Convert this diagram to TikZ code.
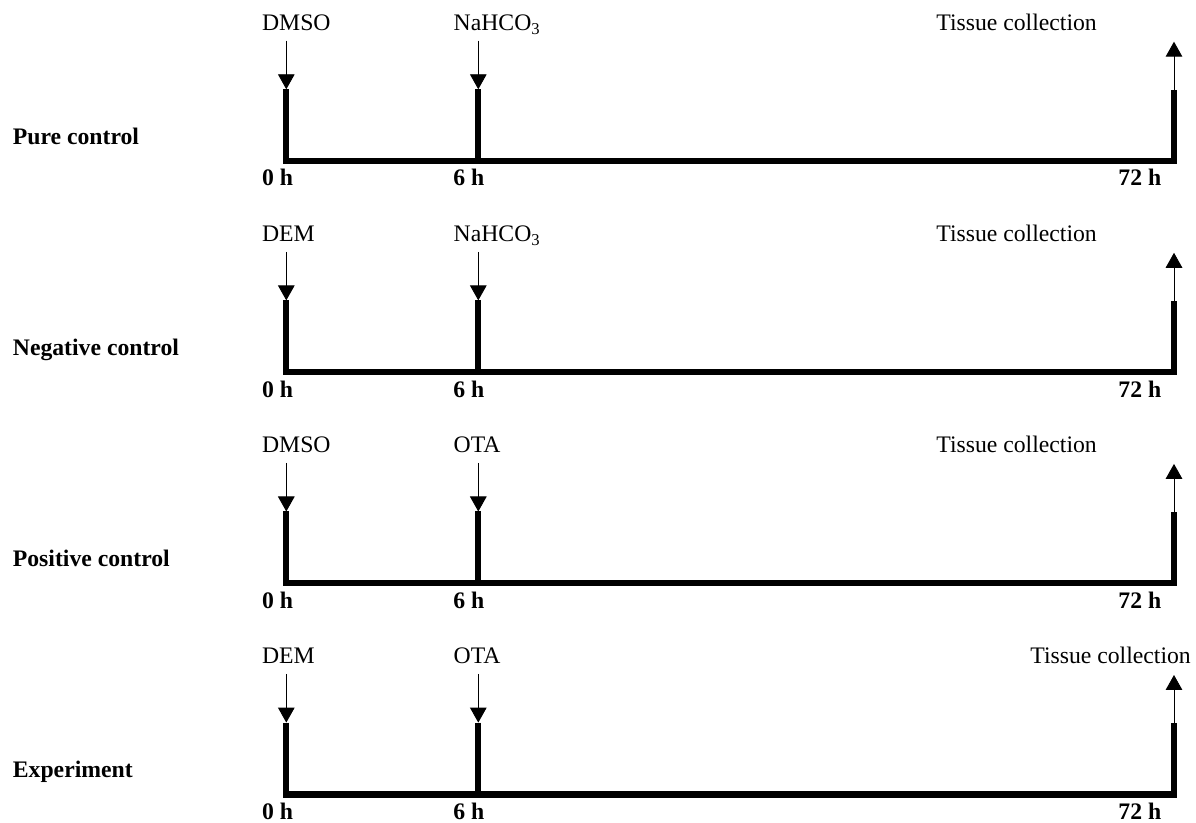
\documentclass[tikz,border=0pt]{standalone}
\usepackage{fontspec}
\setmainfont{Liberation Serif}
\usetikzlibrary{arrows.meta}
\begin{document}
\begin{tikzpicture}[x=0.5pt,y=-0.5pt,
 lbl/.style={anchor=base west,inner sep=0pt,font=\fontsize{11.85}{14}\selectfont},
 blbl/.style={anchor=base west,inner sep=0pt,font=\fontsize{11.85}{14}\selectfont\bfseries},
 bar/.style={line width=3pt,line cap=butt},
 axis/.style={line width=3.25pt,line cap=butt},
 dose/.style={line width=0.45pt,-{Triangle[width=8.3pt,length=7.5pt]}}]
\useasboundingbox (0,0) rectangle (1196,823);
\foreach \r/\a/\b/\name/\tx in {0/DMSO/NaHCO\textsubscript{3}/Pure control/936,
  1/DEM/NaHCO\textsubscript{3}/Negative control/936,
  2/DMSO/OTA/Positive control/936,
  3/DEM/OTA/Experiment/1030}{
  \pgfmathsetmacro{\o}{\r*211.1}
  \coordinate (a\r) at (286.3,{\o+40.7});
  \coordinate (zt\r) at (286.3,{\o+89.3});
  \coordinate (zb\r) at (286.3,{\o+164.3});
  \coordinate (b\r) at (478.3,{\o+40.7});
  \coordinate (st\r) at (478.3,{\o+89.3});
  \coordinate (sb\r) at (478.3,{\o+164.3});
  \coordinate (c\r) at (1174,{\o+41.7});
  \coordinate (et\r) at (1174,{\o+90});
  \coordinate (eb\r) at (1174,{\o+164.3});
  \coordinate (hl\r) at (283.3,{\o+161});
  \coordinate (hr\r) at (1177,{\o+161});
  \draw[dose] (a\r) -- (zt\r);
  \draw[dose] (b\r) -- (st\r);
  \draw[dose] (et\r) -- (c\r);
  \draw[bar] (zt\r) -- (zb\r);
  \draw[bar] (st\r) -- (sb\r);
  \draw[bar] (et\r) -- (eb\r);
  \draw[axis] (hl\r) -- (hr\r);
  \node[lbl] (ta\r) at (261.7,{\o+30.7}) {\a};
  \node[lbl] (tb\r) at (453.3,{\o+30.7}) {\b};
  \node[lbl] (tc\r) at (\tx,{\o+30.7}) {Tissue collection};
  \node[blbl] (n\r) at (12.5,{\o+144.3}) {\name};
  \node[blbl] (h0\r) at (261.7,{\o+186}) {0 h};
  \node[blbl] (h6\r) at (453,{\o+186}) {6 h};
  \node[blbl] (h72\r) at (1118,{\o+186}) {72 h};
}
\end{tikzpicture}
\end{document}
